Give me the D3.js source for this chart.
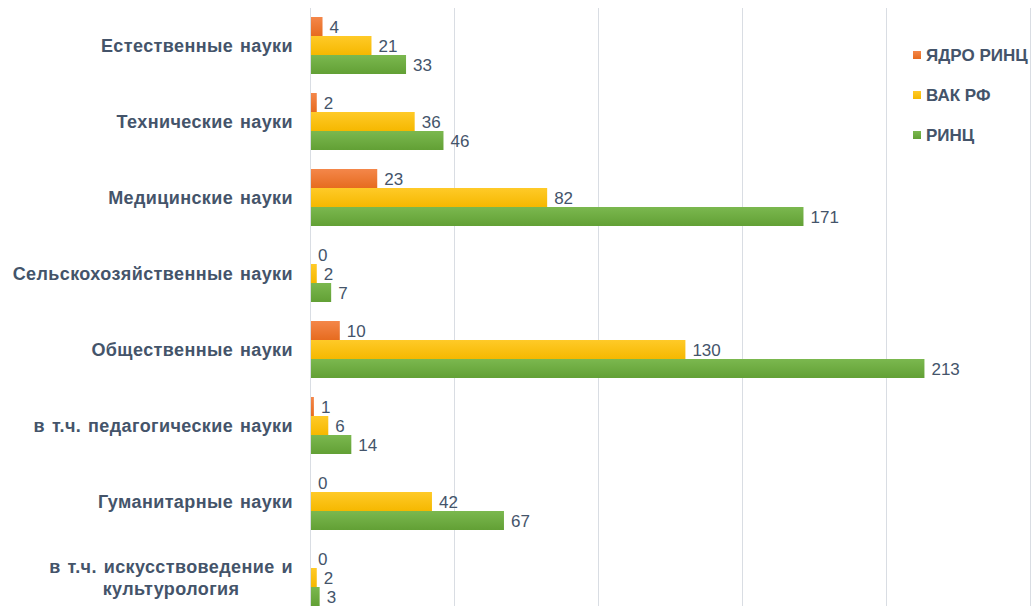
<!DOCTYPE html>
<html><head><meta charset="utf-8">
<script src="https://cdn.jsdelivr.net/npm/d3@7"></script>
<style>body{margin:0;background:#fff;}svg{display:block;}</style>
</head><body>
<svg id="c" width="1033" height="606"></svg>
<script>
const categories = ["Естественные науки","Технические науки","Медицинские науки","Сельскохозяйственные науки","Общественные науки","в т.ч. педагогические науки","Гуманитарные науки","в т.ч. искусствоведение и|культурология"];
const seriesNames = ["ЯДРО РИНЦ","ВАК РФ","РИНЦ"];
const yadro = [4,2,23,0,10,1,0,0];
const vak = [21,36,82,2,130,6,42,2];
const rinc = [33,46,171,7,213,14,67,3];
const xTicks = [0,50,100,150,200,250];
const seriesValues = [yadro, vak, rinc];
const colors = [["#f4874a","#e66b1f"],["#ffca28","#f5b800"],["#7bb84f","#62a035"]];

const svg = d3.select("#c");
const defs = svg.append("defs");
colors.forEach((c,i)=>{
  const g = defs.append("linearGradient").attr("id","g"+i).attr("x1",0).attr("y1",0).attr("x2",0).attr("y2",1);
  g.append("stop").attr("offset","0%").attr("stop-color",c[0]);
  g.append("stop").attr("offset","100%").attr("stop-color",c[1]);
});

const x = d3.scaleLinear().domain([0,250]).range([310,1030]);
const y = d3.scaleBand().domain(categories).range([7.5,615.5]).paddingInner(0.25).paddingOuter(0.125);
const ySub = d3.scaleBand().domain(seriesNames).range([0,y.bandwidth()]);

// gridlines
svg.append("g").selectAll("line").data(xTicks).join("line")
  .attr("x1",d=>x(d)+0.5).attr("x2",d=>x(d)+0.5).attr("y1",8).attr("y2",606)
  .attr("stroke","#d9dde3").attr("stroke-width",1);

// bars
const groups = svg.append("g").selectAll("g").data(categories).join("g")
  .attr("transform",d=>`translate(0,${y(d)})`);
seriesNames.forEach((s,si)=>{
  groups.append("rect")
    .attr("x",x(0)+1)
    .attr("y",ySub(s))
    .attr("height",ySub.bandwidth())
    .attr("width",(d,i)=>Math.max(0,x(seriesValues[si][i])-x(0)))
    .attr("fill",`url(#g${si})`);
  groups.append("text")
    .attr("x",(d,i)=>x(seriesValues[si][i])+8)
    .attr("y",ySub(s)+ySub.bandwidth()/2+1)
    .attr("dy","0.35em")
    .attr("font-family","'Liberation Sans', Arial, sans-serif")
    .attr("font-size",17)
    .attr("fill","#44546a")
    .text((d,i)=>seriesValues[si][i]);
});

// category labels
const lab = svg.append("g").attr("font-family","'Liberation Sans', Arial, sans-serif")
  .attr("font-size",18).attr("font-weight","bold").attr("fill","#44546a")
  .attr("letter-spacing","0.4px").attr("word-spacing","1.5px");
const rightX = 293;
categories.forEach(c=>{
  const lines = c.split("|");
  const cy = y(c)+y.bandwidth()/2;
  if(lines.length===1){
    lab.append("text").attr("x",rightX).attr("y",cy).attr("dy","0.35em").attr("text-anchor","end").text(lines[0]);
  } else {
    const t = lab.append("text").attr("text-anchor","middle");
    const tmp = lab.append("text").text(lines[0]);
    const w = tmp.node().getComputedTextLength(); tmp.remove();
    const cx = rightX - w/2;
    lines.forEach((l,li)=>{
      t.append("tspan").attr("x",cx).attr("y",cy+(li-(lines.length-1)/2)*22).attr("dy","0.35em").text(l);
    });
  }
});

// legend
const leg = svg.append("g");
seriesNames.forEach((s,i)=>{
  const ly = 55 + i*40;
  leg.append("rect").attr("x",913).attr("y",ly-4).attr("width",8).attr("height",8).attr("fill",`url(#g${i})`);
  leg.append("text").attr("x",926).attr("y",ly).attr("dy","0.35em")
    .attr("font-family","'Liberation Sans', Arial, sans-serif").attr("font-size",17).attr("font-weight","bold")
    .attr("fill","#44546a").text(s);
});
</script>
</body></html>
